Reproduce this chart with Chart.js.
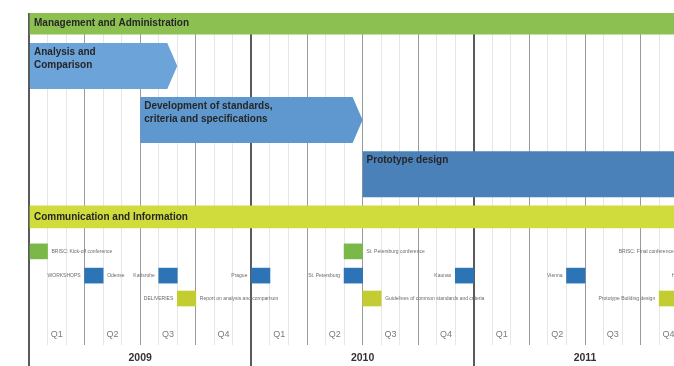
<!DOCTYPE html>
<html>
<head>
<meta charset="utf-8">
<script src="https://cdn.jsdelivr.net/npm/chart.js@4.4.0/dist/chart.umd.min.js"></script>
<style>
  html, body { margin: 0; padding: 0; background: #fff; }
  canvas { display: block; }
</style>
</head>
<body>
<canvas id="gantt" width="674" height="366"></canvas>
<script>
// --- data: months counted from January 2009 ---
const YEARS = ['2009', '2010', '2011'];
const QUARTERS = ['Q1', 'Q2', 'Q3', 'Q4'];

const PHASES = ['Management and Administration', 'Communication and Information'];
const PHASE_START = [0, 0];
const PHASE_END = [36, 36];

const TASKS = [['Analysis and', 'Comparison'], ['Development of standards,', 'criteria and specifications'], ['Prototype design']];
const TASK_START = [0, 6, 18];
const TASK_END = [8, 18, 36];

const CONFERENCES = ['BRISC: Kick-off conference', 'St. Petersburg conference', 'BRISC: Final conference'];
const CONFERENCE_MONTH = [0, 17, 35];

const WORKSHOPS = ['Odense', 'Karlsruhe', 'Prague', 'St. Petersburg', 'Kaunas', 'Vienna', 'Hamburg'];
const WORKSHOP_MONTH = [3, 7, 12, 17, 23, 29, 36];

const DELIVERIES = ['Report on analysis and comparison', 'Guidelines of common standards and criteria', 'Prototype Building design'];
const DELIVERY_MONTH = [8, 18, 34];

// --- layout (not data) ---
const X_MAX = 34.8;           // visible part of the timeline
const TIP = 10;               // arrow point length (px)
const LANE = { mgmt: 3.2, analysis: 16, develop: 32.2, proto: 48.6, comm: 61.4,
               conf: 71.8, workshop: 79.1, delivery: 86.0, quarter: 96.7, year: 103.9 };
const FONT = '"Liberation Sans", Arial, sans-serif';

function span(starts, ends, lane) {
    return starts.map((s, i) => ({ x: [s, ends[i]], y: Array.isArray(lane) ? lane[i] : lane }));
}
function marks(months, lane) {
    return months.map(m => ({ x: [m, m + 1], y: lane }));
}

const ctx = document.getElementById('gantt').getContext('2d');

// draws arrow shaped tasks and all texts
const ganttText = {
    id: 'ganttText',
    beforeDatasetDraw(chart, args) {
        const ds = chart.data.datasets[args.index];
        if (!ds.arrow) return;
        const c = chart.ctx;
        c.save();
        args.meta.data.forEach((bar, i) => {
            const { x, y, base, height } = bar.getProps(['x', 'y', 'base', 'height'], true);
            const top = y - height / 2, bottom = y + height / 2;
            c.fillStyle = ds.backgroundColor[i];
            c.beginPath();
            c.moveTo(base, top);
            c.lineTo(x - TIP, top);
            c.lineTo(x, y);
            c.lineTo(x - TIP, bottom);
            c.lineTo(base, bottom);
            c.closePath();
            c.fill();
        });
        c.restore();
        return false;
    },
    afterDraw(chart) {
        const c = chart.ctx;
        const xs = chart.scales.x, ys = chart.scales.y;
        c.save();
        c.textBaseline = 'middle';
        chart.data.datasets.forEach((ds, di) => {
            const meta = chart.getDatasetMeta(di);
            meta.data.forEach((bar, i) => {
                const { x, y, base, height } = bar.getProps(['x', 'y', 'base', 'height'], true);
                if (ds.barText) {
                    c.font = 'bold 10px ' + FONT;
                    c.fillStyle = '#262626';
                    c.textAlign = 'left';
                    const lines = [].concat(ds.barText[i]);
                    const top = lines.length > 1 || height > 30 ? y - height / 2 + 9 : y;
                    lines.forEach((t, k) => c.fillText(t, base + 4, top + k * 13));
                }
                if (ds.tags) {
                    c.font = '5px ' + FONT;
                    c.fillStyle = '#6a6a6a';
                    const tag = ds.tags[i];
                    if (tag.right) { c.textAlign = 'left'; c.fillText(tag.right, x + 4, y); }
                    if (tag.left) { c.textAlign = 'right'; c.fillText(tag.left, base - 4, y); }
                }
            });
        });
        // quarter and year labels
        c.textAlign = 'center';
        YEARS.forEach((yr, yi) => {
            c.font = '9px ' + FONT;
            c.fillStyle = '#7a7a7a';
            QUARTERS.forEach((q, qi) => {
                c.fillText(q, xs.getPixelForValue(yi * 12 + qi * 3 + 1.5), ys.getPixelForValue(LANE.quarter));
            });
            c.font = 'bold 10.5px ' + FONT;
            c.fillStyle = '#333';
            c.fillText(yr, xs.getPixelForValue(yi * 12 + 6), ys.getPixelForValue(LANE.year));
        });
        c.restore();
    }
};

const lineKind = v => v % 12 === 0 ? 'year' : v % 3 === 0 ? 'quarter' : 'month';

new Chart(ctx, {
    type: 'bar',
    data: {
        datasets: [{
            data: span([PHASE_START[0]], [PHASE_END[0]], LANE.mgmt),
            backgroundColor: '#8cc152',
            barThickness: 21,
            barText: [PHASES[0]]
        }, {
            data: span(TASK_START, TASK_END, [LANE.analysis, LANE.develop, LANE.proto]),
            backgroundColor: ['#6ca3d8', '#5f98cf', '#4b81b9'],
            barThickness: 46,
            arrow: true,
            barText: TASKS
        }, {
            data: span([PHASE_START[1]], [PHASE_END[1]], LANE.comm),
            backgroundColor: '#cfdc3c',
            barThickness: 22,
            barText: [PHASES[1]]
        }, {
            data: marks(CONFERENCE_MONTH, LANE.conf),
            backgroundColor: '#7bb84a',
            barThickness: 15,
            tags: [{ right: CONFERENCES[0] }, { right: CONFERENCES[1] }, { left: CONFERENCES[2] }]
        }, {
            data: marks(WORKSHOP_MONTH, LANE.workshop),
            backgroundColor: '#2c74b6',
            barThickness: 15,
            tags: WORKSHOPS.map((w, i) => i === 0 ? { left: 'WORKSHOPS', right: w } : { left: w })
        }, {
            data: marks(DELIVERY_MONTH, LANE.delivery),
            backgroundColor: '#c3cd32',
            barThickness: 15,
            tags: [{ left: 'DELIVERIES', right: DELIVERIES[0] }, { right: DELIVERIES[1] }, { left: DELIVERIES[2] }]
        }]
    },
    options: {
        indexAxis: 'y',
        responsive: false,
        animation: false,
        devicePixelRatio: 1,
        layout: { padding: { left: 29, top: 13, right: 0, bottom: 0 } },
        datasets: { bar: { grouped: false, borderWidth: 0 } },
        plugins: { legend: { display: false }, tooltip: { enabled: false } },
        scales: {
            x: {
                type: 'linear',
                min: 0,
                max: X_MAX,
                offset: false,
                afterBuildTicks: scale => {
                    scale.ticks = Array.from({ length: 35 }, (_, v) => ({ value: v }));
                },
                ticks: { display: false },
                border: { display: false },
                grid: {
                    drawTicks: true,
                    tickLength: 21,
                    color: c => ({ year: '#5a5a5a', quarter: '#9a9a9a', month: '#e6e6e6' })[lineKind(c.tick.value)],
                    lineWidth: c => lineKind(c.tick.value) === 'year' ? 2 : 1,
                    tickColor: c => lineKind(c.tick.value) === 'year' ? '#5a5a5a' : 'rgba(0,0,0,0)',
                    tickWidth: c => lineKind(c.tick.value) === 'year' ? 2 : 1
                }
            },
            y: {
                type: 'linear',
                reverse: true,
                offset: false,
                min: 0,
                max: 100,
                display: false
            }
        }
    },
    plugins: [ganttText]
});
</script>
</body>
</html>
